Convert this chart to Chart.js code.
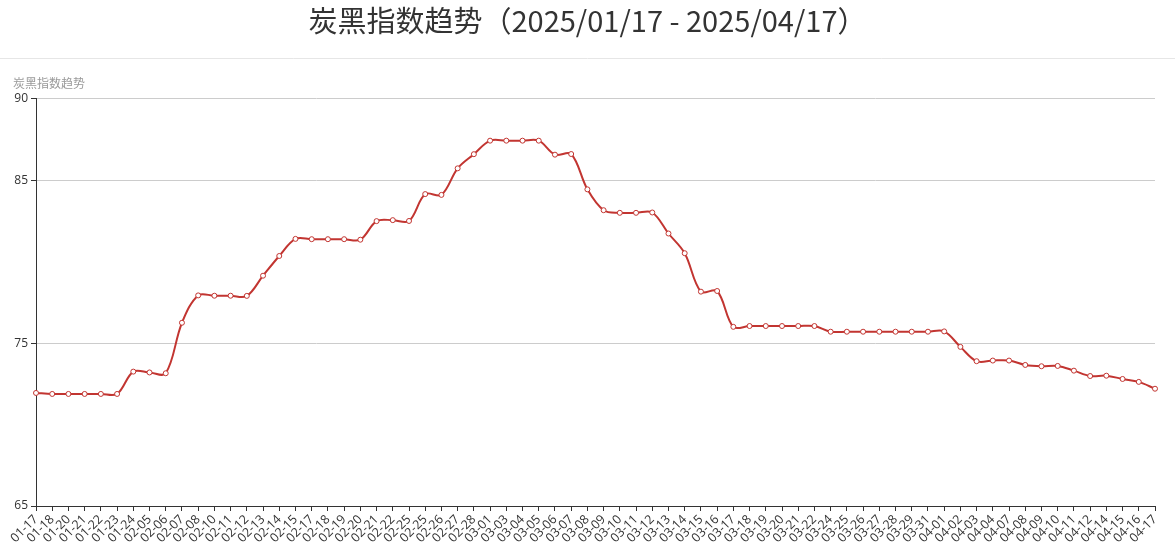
<!DOCTYPE html>
<html lang="zh">
  <head>
    <meta charset="UTF-8" />
    <title>炭黑指数趋势</title>
    <script src="https://cdn.jsdelivr.net/npm/chart.js"></script>
    <style>
      html, body { margin: 0; padding: 0; background: #fff; }
      #wrap { width: 1175px; height: 558px; }
    </style>
  </head>
  <body>
    <div id="wrap"><canvas id="trendChart" width="1175" height="558"></canvas></div>

    <script>
      const titleText = "炭黑指数趋势（2025/01/17 - 2025/04/17）";
      const axisName = "炭黑指数趋势";

      const dates = [
        "01-17", "01-18", "01-20", "01-21", "01-22", "01-23", "01-24", "02-05", "02-06", "02-07",
        "02-08", "02-10", "02-11", "02-12", "02-13", "02-14", "02-15", "02-17", "02-18", "02-19",
        "02-20", "02-21", "02-22", "02-25", "02-25", "02-26", "02-27", "02-28", "03-01", "03-03",
        "03-04", "03-05", "03-06", "03-07", "03-08", "03-09", "03-10", "03-11", "03-12", "03-13",
        "03-14", "03-15", "03-16", "03-17", "03-18", "03-19", "03-20", "03-21", "03-22", "03-24",
        "03-25", "03-26", "03-27", "03-28", "03-29", "03-31", "04-01", "04-02", "04-03", "04-04",
        "04-07", "04-08", "04-09", "04-10", "04-11", "04-12", "04-14", "04-15", "04-16", "04-17",
      ];

      const indexValues = [
        71.94, 71.88, 71.88, 71.88, 71.88, 71.88, 73.25, 73.2, 73.15, 76.25,
        77.93, 77.91, 77.91, 77.9, 79.14, 80.35, 81.4, 81.38, 81.38, 81.38,
        81.35, 82.49, 82.55, 82.5, 84.15, 84.1, 85.73, 86.6, 87.43, 87.43,
        87.43, 87.43, 86.57, 86.61, 84.44, 83.16, 83.0, 83.0, 83.02, 81.73,
        80.52, 78.16, 78.2, 76.0, 76.05, 76.05, 76.05, 76.05, 76.05, 75.7,
        75.7, 75.7, 75.7, 75.7, 75.7, 75.7, 75.72, 74.77, 73.89, 73.93,
        73.93, 73.66, 73.58, 73.6, 73.31, 72.98, 73.0, 72.8, 72.62, 72.2,
      ];

      const yTicks = [65, 75, 85, 90];

      // separator under the title + axis name above the y axis
      const extras = {
        id: "extras",
        afterDraw(chart) {
          const ctx = chart.ctx;
          ctx.save();
          ctx.strokeStyle = "#e6e6e6";
          ctx.lineWidth = 1;
          ctx.beginPath();
          ctx.moveTo(0, 58.5);
          ctx.lineTo(chart.width, 58.5);
          ctx.stroke();
          ctx.fillStyle = "#999";
          ctx.font = '12px "Noto Sans CJK SC", sans-serif';
          ctx.textBaseline = "middle";
          ctx.textAlign = "left";
          ctx.fillText(axisName, 13, 83);
          ctx.restore();
        },
      };

      new Chart(document.getElementById("trendChart"), {
        type: "line",
        data: {
          labels: dates,
          datasets: [
            {
              label: axisName,
              data: indexValues,
              borderColor: "#c23531",
              borderWidth: 2,
              tension: 0.35,
              pointRadius: 2.5,
              pointBorderWidth: 1,
              pointBackgroundColor: "#fff",
              pointBorderColor: "#c23531",
              fill: false,
            },
          ],
        },
        options: {
          responsive: false,
          animation: false,
          layout: { padding: 0 },
          plugins: {
            legend: { display: false },
            tooltip: { enabled: false },
            title: {
              display: true,
              text: titleText,
              color: "#333",
              font: { size: 29, family: '"Noto Sans CJK SC", sans-serif', weight: "normal" },
              padding: { top: 4, bottom: 60 },
            },
          },
          scales: {
            x: {
              offset: false,
              grid: { display: true, drawOnChartArea: false, tickLength: 5, tickColor: "#333" },
              border: { color: "#333" },
              ticks: {
                autoSkip: false,
                maxRotation: 45,
                minRotation: 45,
                padding: 1,
                color: "#333",
                font: { size: 12.5, family: '"Open Sans", sans-serif' },
              },
              afterFit(scale) { scale.height = 52; },
            },
            y: {
              min: 65,
              max: 90,
              afterBuildTicks(scale) { scale.ticks = yTicks.map((v) => ({ value: v })); },
              grid: { color: "#ccc", tickLength: 5, tickColor: "#333" },
              border: { color: "#333" },
              ticks: {
                padding: 3,
                color: "#333",
                font: { size: 12, family: '"Open Sans", sans-serif' },
              },
              afterFit(scale) { scale.width = 36; },
            },
            // empty right-hand axis, only reserves the right margin
            yRight: {
              position: "right",
              display: true,
              grid: { display: false },
              border: { display: false },
              ticks: { display: false },
              afterFit(scale) { scale.width = 20; },
            },
          },
        },
        plugins: [extras],
      });
    </script>
  </body>
</html>
